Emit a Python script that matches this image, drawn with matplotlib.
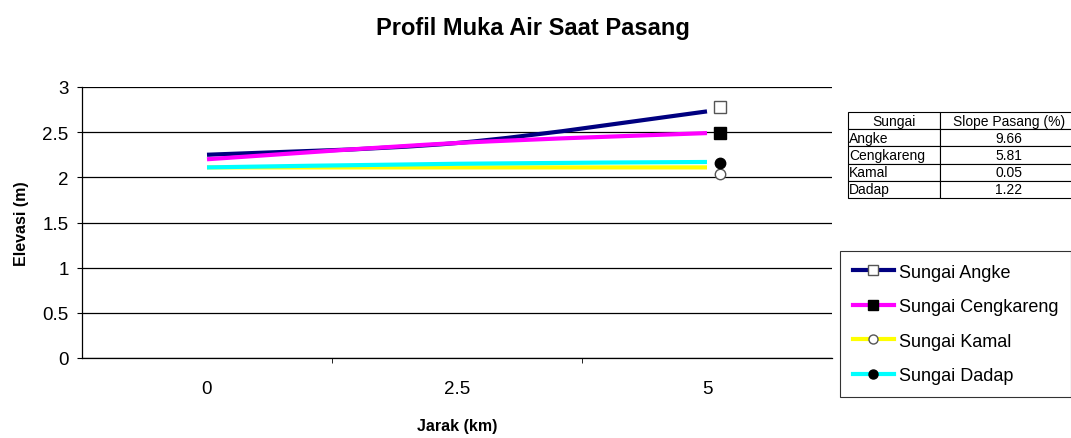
import matplotlib
matplotlib.use("Agg")
import matplotlib.pyplot as plt
from matplotlib.path import Path
from matplotlib.patches import PathPatch
from matplotlib.lines import Line2D

plt.rcParams["font.family"] = ["Liberation Sans", "DejaVu Sans"]

# data
jarak = ["0", "2.5", "5"]
sungai = ["Sungai Angke", "Sungai Cengkareng", "Sungai Kamal", "Sungai Dadap"]
angke = [2.25, 2.38, 2.73]
cengkareng = [2.20, 2.38, 2.49]
kamal = [2.11, 2.11, 2.11]
dadap = [2.11, 2.15, 2.17]
# separate marker series plotted just right of the last category
marker_vals = [2.78, 2.49, 2.04, 2.16]

tabel_sungai = ["Angke", "Cengkareng", "Kamal", "Dadap"]
tabel_slope = ["9.66", "5.81", "0.05", "1.22"]

colors = ["#000080", "#ff00ff", "#ffff00", "#00ffff"]
markers = [("s", "white"), ("s", "black"), ("o", "white"), ("o", "black")]


def smooth_path(xs, ys):
    # catmull-rom style bezier, like excel "smoothed line"
    pts = list(zip(xs, ys))
    verts = [pts[0]]
    codes = [Path.MOVETO]
    n = len(pts)
    for i in range(n - 1):
        p0 = pts[i - 1] if i > 0 else pts[i]
        p1 = pts[i]
        p2 = pts[i + 1]
        p3 = pts[i + 2] if i + 2 < n else pts[i + 1]
        c1 = (p1[0] + (p2[0] - p0[0]) / 6, p1[1] + (p2[1] - p0[1]) / 6)
        c2 = (p2[0] - (p3[0] - p1[0]) / 6, p2[1] - (p3[1] - p1[1]) / 6)
        verts += [c1, c2, p2]
        codes += [Path.CURVE4] * 3
    return Path(verts, codes)


fig = plt.figure(figsize=(10.71, 4.39), dpi=100)
W, H = 1071, 439
ax = fig.add_axes([82 / W, (H - 359) / H, 750 / W, 271 / H])

xpos = list(range(len(jarak)))
series = [angke, cengkareng, kamal, dadap]
for vals, c in zip(series, colors):
    ax.add_patch(PathPatch(smooth_path(xpos, vals), facecolor="none",
                           edgecolor=c, lw=3, capstyle="butt", zorder=3))

for v, (m, fc) in zip(marker_vals, markers):
    ax.plot([xpos[-1] + 0.052], [v], marker=m, ms=8 if m == "s" else 7.5,
            mfc=fc, mec="black" if fc == "black" else "#555555", mew=1,
            ls="none", zorder=4)

ax.set_xlim(-0.5, 2.5)
ax.set_ylim(0, 3)
ax.set_yticks([0, 0.5, 1, 1.5, 2, 2.5, 3])
ax.set_yticklabels(["0", "0.5", "1", "1.5", "2", "2.5", "3"])
ax.set_xticks(xpos)
ax.set_xticklabels(jarak)
ax.set_xticks([0.5, 1.5], minor=True)
ax.tick_params(axis="x", which="major", length=0, pad=16, labelsize=13.5)
ax.tick_params(axis="x", which="minor", length=3.6, direction="out")
ax.tick_params(axis="y", length=3.6, direction="out", pad=6, labelsize=13.5)
ax.yaxis.grid(True, color="black", lw=0.9)
ax.set_axisbelow(True)
for s in ["top", "right"]:
    ax.spines[s].set_visible(False)
ax.spines["left"].set_linewidth(0.9)
ax.spines["bottom"].set_linewidth(0.9)

ax.set_xlabel("Jarak (km)", fontsize=11.5, fontweight="bold", labelpad=15)
ax.set_ylabel("Elevasi (m)", fontsize=11.5, fontweight="bold", labelpad=10)
fig.text(533 / W, 1 - 29 / H, "Profil Muka Air Saat Pasang", ha="center",
         va="center", fontsize=17, fontweight="bold")

# slope table
tab = fig.add_axes([848 / W, (H - 199) / H, 230 / W, 86 / H])
tab.axis("off")
rows = [["Sungai", "Slope Pasang (%)"]] + [[a, b] for a, b in zip(tabel_sungai, tabel_slope)]
t = tab.table(cellText=rows, bbox=[0, 0, 1, 1], colWidths=[92, 138])
t.auto_set_font_size(False)
for (r, c), cell in t.get_celld().items():
    cell.set_linewidth(0.8)
    cell.get_text().set_fontsize(10)
    if r > 0 and c == 0:
        cell.get_text().set_ha("left")
        cell.PAD = 0.01
    else:
        cell.get_text().set_ha("center")

# legend
handles = []
for c, (m, fc) in zip(colors, markers):
    handles.append(Line2D([], [], color=c, lw=3, marker=m, ms=7 if m == "s" else 6.5,
                          mfc=fc, mec="black" if fc == "black" else "#555555"))
leg = fig.legend(handles, sungai, loc="upper left",
                 bbox_to_anchor=(840 / W, 1 - 252 / H), fontsize=13,
                 frameon=True, fancybox=False, handlelength=2.3,
                 handletextpad=0.28, labelspacing=0.97,
                 borderpad=0.7, borderaxespad=0)
leg.get_frame().set_edgecolor("black")
leg.get_frame().set_linewidth(0.8)

fig.savefig("out.png", dpi=100)
